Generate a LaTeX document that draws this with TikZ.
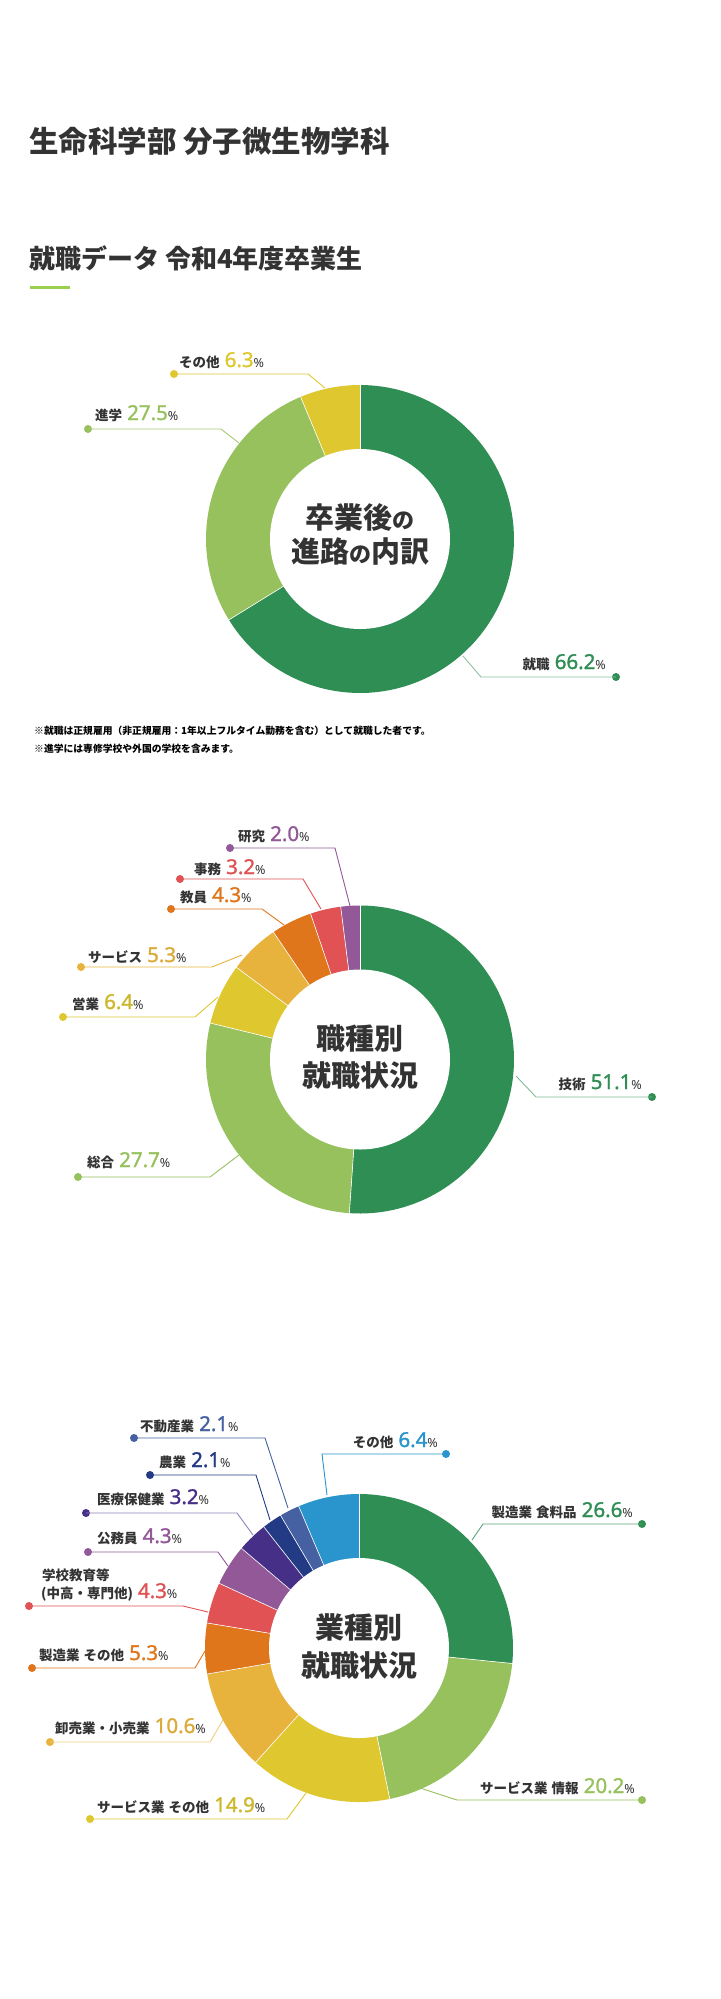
\documentclass[tikz,border=0pt]{standalone}
\usepackage{fontspec}
\setmainfont{Noto Sans CJK JP}
\newfontfamily\numfont[FakeBold=1.3]{Noto Sans}
\newfontfamily\pctfont{Noto Sans}
\definecolor{txt}{HTML}{333333}
\definecolor{cgreen}{HTML}{2E8E53}
\definecolor{clgreen}{HTML}{97C15D}
\definecolor{cyellow}{HTML}{DFC72F}
\definecolor{cgold}{HTML}{E8B33C}
\definecolor{corange}{HTML}{E0761B}
\definecolor{cred}{HTML}{E05254}
\definecolor{cpurple}{HTML}{935898}
\definecolor{cdpurple}{HTML}{462F87}
\definecolor{cnavy}{HTML}{233A84}
\definecolor{cblue}{HTML}{4561A2}
\definecolor{csky}{HTML}{2A94CC}
\definecolor{clime}{HTML}{9BCF4F}
\tikzset{
  dotmark/.style={circle,fill=#1,inner sep=0pt,minimum size=8pt},
  lead/.style={draw=#1,line width=0.9pt},
  lblw/.style={anchor=base west,inner sep=0pt,text=txt},
  lble/.style={anchor=base east,inner sep=0pt,text=txt},
  ctext/.style={anchor=base,inner sep=0pt,text=txt,font=\bfseries\fontsize{29}{29}\selectfont},
}
\newcommand\jlab[1]{{\bfseries\fontsize{13.5}{14}\selectfont #1}}
\newcommand\numpct[2]{\hspace{5pt}{\numfont\fontsize{20.5}{20.5}\selectfont\textcolor{#1}{#2}}{\pctfont\fontsize{12.5}{12.5}\selectfont\%}}
\newcommand\donutslice[5]{%
  \pgfmathsetmacro\sA{-90+3.6*#3}%
  \pgfmathsetmacro\sB{-90+3.6*#4}%
  \fill[#5] (#1,#2) -- plot[domain=\sA:\sB,samples=90] ({#1+154*cos(\x)},{#2+154*sin(\x)}) -- cycle;}
\newcommand\seam[3]{%
  \pgfmathsetmacro\sA{-90+3.6*#3}%
  \draw[white,line width=0.6pt] ({#1+88*cos(\sA)},{#2+88*sin(\sA)}) -- ({#1+156*cos(\sA)},{#2+156*sin(\sA)});}
\begin{document}
\begin{tikzpicture}[x=1pt,y=-1pt]
\useasboundingbox (0,0) rectangle (720,1999);
\fill[white] (0,0) rectangle (720,1999);

% titles
\node[lblw,font=\bfseries\fontsize{29.5}{30}\selectfont] (title) at (29,152) {生命科学部 分子微生物学科};
\node[lblw,font=\bfseries\fontsize{26}{26}\selectfont] (subtitle) at (29,268) {就職データ 令和4年度卒業生};
\fill[clime] (30,285.5) rectangle (70,288.5);

% ================= chart 1 =================
\coordinate (c1) at (360,539);
\node[dotmark=cyellow] (d11) at (174,374) {};
\coordinate (b11) at (308,374); \coordinate (e11) at (325,388);
\draw[lead=cyellow] (d11.center) -- (b11) -- (e11);
\node[dotmark=clgreen] (d12) at (88,429) {};
\coordinate (b12) at (221,429); \coordinate (e12) at (239,443);
\draw[lead=clgreen!85] (d12.center) -- (b12) -- (e12);
\node[dotmark=cgreen] (d13) at (616,677) {};
\coordinate (b13) at (481,677); \coordinate (e13) at (463,656);
\draw[lead=cgreen!55] (d13.center) -- (b13) -- (e13);

\donutslice{360}{539}{0}{66.2}{cgreen}
\donutslice{360}{539}{66.2}{93.7}{clgreen}
\donutslice{360}{539}{93.7}{100}{cyellow}
\foreach \p in {0,66.2,93.7} {\seam{360}{539}{\p}}
\fill[white] (c1) circle[radius=90];

\node[lblw] (l11) at (179,367) {\jlab{その他}\numpct{cyellow}{6.3}};
\node[lblw] (l12) at (95,420) {\jlab{進学}\numpct{clgreen}{27.5}};
\node[lble] (l13) at (606,669) {\jlab{就職}\numpct{cgreen}{66.2}};

\node[ctext] (t11) at (360,528) {卒業後{\fontsize{22}{22}\selectfont の}};
\node[ctext] (t12) at (360,562) {進路{\fontsize{22}{22}\selectfont の}内訳};

\node[lblw,font=\bfseries\fontsize{9.8}{10}\selectfont,text=black] (fn1) at (34,734) {※就職は正規雇用（非正規雇用：1年以上フルタイム勤務を含む）として就職した者です。};
\node[lblw,font=\bfseries\fontsize{9.8}{10}\selectfont,text=black] (fn2) at (34,752) {※進学には専修学校や外国の学校を含みます。};

% ================= chart 2 =================
\coordinate (c2) at (360,1059.5);
\node[dotmark=cpurple] (d21) at (230,848) {};
\coordinate (b21) at (335,848); \coordinate (e21) at (350,906);
\draw[lead=cpurple] (d21.center) -- (b21) -- (e21);
\node[dotmark=cred] (d22) at (180,879) {};
\coordinate (b22) at (303,879); \coordinate (e22) at (321,909);
\draw[lead=cred] (d22.center) -- (b22) -- (e22);
\node[dotmark=corange] (d23) at (171,909) {};
\coordinate (b23) at (262,909); \coordinate (e23) at (284,925);
\draw[lead=corange] (d23.center) -- (b23) -- (e23);
\node[dotmark=cgold] (d24) at (81,967) {};
\coordinate (b24) at (212,967); \coordinate (e24) at (242,955);
\draw[lead=cgold] (d24.center) -- (b24) -- (e24);
\node[dotmark=cyellow] (d25) at (63,1017) {};
\coordinate (b25) at (195,1017); \coordinate (e25) at (218,997);
\draw[lead=cyellow] (d25.center) -- (b25) -- (e25);
\node[dotmark=cgreen] (d26) at (652,1097) {};
\coordinate (b26) at (536,1097); \coordinate (e26) at (516,1076);
\draw[lead=cgreen!60] (d26.center) -- (b26) -- (e26);
\node[dotmark=clgreen] (d27) at (78,1177) {};
\coordinate (b27) at (210,1177); \coordinate (e27) at (239,1155);
\draw[lead=clgreen] (d27.center) -- (b27) -- (e27);

\donutslice{360}{1059.5}{0}{51.1}{cgreen}
\donutslice{360}{1059.5}{51.1}{78.8}{clgreen}
\donutslice{360}{1059.5}{78.8}{85.2}{cyellow}
\donutslice{360}{1059.5}{85.2}{90.5}{cgold}
\donutslice{360}{1059.5}{90.5}{94.8}{corange}
\donutslice{360}{1059.5}{94.8}{98.0}{cred}
\donutslice{360}{1059.5}{98.0}{100}{cpurple}
\foreach \p in {0,51.1,78.8,85.2,90.5,94.8,98.0} {\seam{360}{1059.5}{\p}}
\fill[white] (c2) circle[radius=90];

\node[lblw] (l21) at (238,841) {\jlab{研究}\numpct{cpurple}{2.0}};
\node[lblw] (l22) at (194,874) {\jlab{事務}\numpct{cred}{3.2}};
\node[lblw] (l23) at (180,902) {\jlab{教員}\numpct{corange}{4.3}};
\node[lblw] (l24) at (88,962) {\jlab{サービス}\numpct{cgold!95!black}{5.3}};
\node[lblw] (l25) at (72,1009) {\jlab{営業}\numpct{cyellow!92!black}{6.4}};
\node[lble] (l26) at (642,1089) {\jlab{技術}\numpct{cgreen}{51.1}};
\node[lblw] (l27) at (87,1167) {\jlab{総合}\numpct{clgreen}{27.7}};

\node[ctext] (t21) at (360,1049) {職種別};
\node[ctext] (t22) at (360,1086) {就職状況};

% ================= chart 3 =================
\coordinate (c3) at (359,1648);
\node[dotmark=cblue] (d31) at (134,1438) {};
\coordinate (b31) at (265,1438); \coordinate (e31) at (288,1508);
\draw[lead=cblue] (d31.center) -- (b31) -- (e31);
\node[dotmark=cnavy] (d32) at (150,1475) {};
\coordinate (b32) at (256,1475); \coordinate (e32) at (270,1520);
\draw[lead=cnavy] (d32.center) -- (b32) -- (e32);
\node[dotmark=cdpurple] (d33) at (86,1513) {};
\coordinate (b33) at (237,1513); \coordinate (e33) at (253,1535);
\draw[lead=cdpurple!60] (d33.center) -- (b33) -- (e33);
\node[dotmark=cpurple] (d34) at (88,1552) {};
\coordinate (b34) at (218,1552); \coordinate (e34) at (228,1566);
\draw[lead=cpurple] (d34.center) -- (b34) -- (e34);
\node[dotmark=cred] (d35) at (29,1606) {};
\coordinate (b35) at (183,1606); \coordinate (e35) at (208,1612);
\draw[lead=cred] (d35.center) -- (b35) -- (e35);
\node[dotmark=corange] (d36) at (32,1668) {};
\coordinate (b36) at (195,1668); \coordinate (e36) at (205,1651);
\draw[lead=corange] (d36.center) -- (b36) -- (e36);
\node[dotmark=cgold] (d37) at (50,1742) {};
\coordinate (b37) at (210,1742); \coordinate (e37) at (223,1720);
\draw[lead=cgold!65] (d37.center) -- (b37) -- (e37);
\node[dotmark=cyellow] (d38) at (90,1819) {};
\coordinate (b38) at (287,1819); \coordinate (e38) at (306,1793);
\draw[lead=cyellow] (d38.center) -- (b38) -- (e38);
\node[dotmark=csky] (d39) at (446,1454) {};
\coordinate (b39) at (322,1454); \coordinate (e39) at (327,1495);
\draw[lead=csky] (d39.center) -- (b39) -- (e39);
\node[dotmark=cgreen] (d3a) at (642,1524) {};
\coordinate (b3a) at (483,1524); \coordinate (e3a) at (472,1540);
\draw[lead=cgreen!80] (d3a.center) -- (b3a) -- (e3a);
\node[dotmark=clgreen] (d3b) at (642,1800) {};
\coordinate (b3b) at (457,1800); \coordinate (e3b) at (420,1788);
\draw[lead=clgreen] (d3b.center) -- (b3b) -- (e3b);

\donutslice{359}{1648}{0}{26.6}{cgreen}
\donutslice{359}{1648}{26.6}{46.8}{clgreen}
\donutslice{359}{1648}{46.8}{61.7}{cyellow}
\donutslice{359}{1648}{61.7}{72.3}{cgold}
\donutslice{359}{1648}{72.3}{77.6}{corange}
\donutslice{359}{1648}{77.6}{81.9}{cred}
\donutslice{359}{1648}{81.9}{86.2}{cpurple}
\donutslice{359}{1648}{86.2}{89.4}{cdpurple}
\donutslice{359}{1648}{89.4}{91.5}{cnavy}
\donutslice{359}{1648}{91.5}{93.6}{cblue}
\donutslice{359}{1648}{93.6}{100}{csky}
\foreach \p in {0,26.6,46.8,61.7,72.3,77.6,81.9,86.2,89.4,91.5,93.6} {\seam{359}{1648}{\p}}
\fill[white] (c3) circle[radius=90];

\node[lblw] (l31) at (140,1431) {\jlab{不動産業}\numpct{cblue}{2.1}};
\node[lblw] (l32) at (159,1467) {\jlab{農業}\numpct{cnavy}{2.1}};
\node[lblw] (l33) at (97,1504) {\jlab{医療保健業}\numpct{cdpurple}{3.2}};
\node[lblw] (l34) at (97,1543) {\jlab{公務員}\numpct{cpurple}{4.3}};
\node[lblw] (l35a) at (42,1580) {\jlab{学校教育等}};
\node[lblw] (l35b) at (41,1598) {\jlab{(中高・専門他)}\numpct{cred}{4.3}};
\node[lblw] (l36) at (39,1660) {\jlab{製造業\hspace{4pt}その他}\numpct{corange}{5.3}};
\node[lblw] (l37) at (55,1733) {\jlab{卸売業・小売業}\numpct{cgold!95!black}{10.6}};
\node[lblw] (l38) at (97,1812) {\jlab{サービス業\hspace{4pt}その他}\numpct{cyellow!92!black}{14.9}};
\node[lble] (l39) at (438,1447) {\jlab{その他}\numpct{csky}{6.4}};
\node[lble] (l3a) at (633,1517) {\jlab{製造業\hspace{4pt}食料品}\numpct{cgreen}{26.6}};
\node[lble] (l3b) at (635,1793) {\jlab{サービス業\hspace{4pt}情報}\numpct{clgreen}{20.2}};

\node[ctext] (t31) at (359,1638) {業種別};
\node[ctext] (t32) at (359,1676) {就職状況};
\end{tikzpicture}
\end{document}
